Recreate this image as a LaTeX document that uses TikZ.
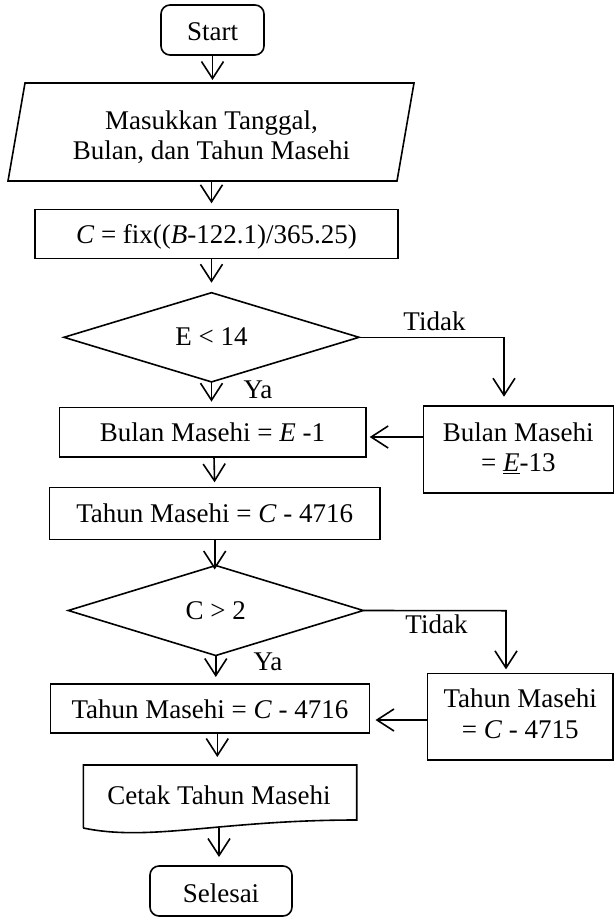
\documentclass[tikz,border=0pt]{standalone}
\usepackage{fontspec}
\setmainfont{Liberation Serif}
\usetikzlibrary{arrows.meta,shapes.geometric}
\begin{document}
\begin{tikzpicture}[x=1pt,y=-1pt,
  font=\fontsize{27}{30.5}\selectfont,
  every node/.style={inner sep=0pt, outer sep=0pt},
  box/.style={draw, line width=1.6pt, text height=19pt, text depth=0pt},
  mbox/.style={draw, line width=1.6pt, align=center, text depth=0pt},
  term/.style={draw, line width=1.6pt, rounded corners=9pt, text height=22pt, text depth=0pt},
  dec/.style={draw, diamond, line width=1.6pt, text height=17pt, text depth=0pt},
  flow/.style={line width=1.6pt, -{Straight Barb[length=17pt,width=22pt]}},
  lbl/.style={anchor=base}]
\useasboundingbox (0,0) rectangle (615,920);

% nodes
\node[term, minimum width=103pt, minimum height=50pt] (start) at (212.5,30) {Start};

\node[align=center, minimum width=389pt, minimum height=98pt, text height=56pt, text depth=0pt] (inp) at (211.5,132) {Masukkan Tanggal,\\Bulan, dan Tahun Masehi};
\draw[line width=1.6pt, line join=miter] (25,83) -- (414,83) -- (397,181) -- (8,181) -- cycle;

\node[box, minimum width=363pt, minimum height=49pt] (cbox) at (216.5,233.8) {\textit{C} = fix((\textit{B}-122.1)/365.25)};

\node[dec, minimum width=295pt, minimum height=87pt] (d1) at (211.5,337.3) {E < 14};

\node[box, minimum width=306.4pt, minimum height=49.3pt] (b1) at (212.5,432.3) {Bulan Masehi = \textit{E} -1};

\node[mbox, minimum width=190pt, minimum height=87pt, text height=45pt] (s1) at (518.3,449.2) {Bulan Masehi\\= \underline{\textit{E}}-13};

\node[box, minimum width=330.7pt, minimum height=52pt] (t1b) at (214.7,513.3) {Tahun Masehi = \textit{C} - 4716};

\node[dec, minimum width=295pt, minimum height=90pt] (d2) at (215.8,610.5) {C > 2};

\node[box, minimum width=319pt, minimum height=49pt] (t2b) at (210,708.5) {Tahun Masehi = \textit{C} - 4716};

\node[mbox, minimum width=185.7pt, minimum height=86.7pt, text height=43.2pt] (s2) at (520.2,716.7) {Tahun Masehi\\= \textit{C} - 4715};

\node[minimum width=273.4pt, minimum height=63pt, text height=15pt, text depth=0pt] (doc) at (219,796.5) {Cetak Tahun Masehi};
\draw[line width=1.6pt, line join=miter] (83.3,828) -- (83.3,765) -- (356.7,765) -- (356.7,820) .. controls (220,820) and (150,842) .. (83.3,828);

\node[term, minimum width=142pt, minimum height=50pt] (sel) at (221,891) {Selesai};

% labels
\node[lbl] (tidak1) at (434.5,330) {Tidak};
\node[lbl] (ya1) at (258,398) {Ya};
\node[lbl] (tidak2) at (436.5,633.3) {Tidak};
\node[lbl] (ya2) at (268,670) {Ya};

% helper coordinates
\coordinate (k1) at (504,337.3);
\coordinate (k2) at (506,610.7);
\coordinate (h1) at (0,437);
\coordinate (h2) at (0,720);

% connectors
\draw[flow, shorten >=3pt] (start.south) -- (start.south |- inp.north);
\draw[flow, shorten >=6pt] (inp.south) -- (inp.south |- cbox.north);
\draw[flow, shorten >=10pt] (cbox.south -| d1.north) -- (d1.north);
\draw[flow, shorten >=6pt] (d1.south) -- (d1.south |- b1.north);
\draw[flow, shorten >=5pt] (b1.south -| 214,0) -- (t1b.north);
\draw[flow, shorten >=-4pt] (t1b.south) -- (t1b.south |- d2.north);
\draw[flow, shorten >=7pt] (d2.south) -- (d2.south |- t2b.north);
\draw[flow, shorten >=8pt] (t2b.south -| 217.3,0) -- (doc.north -| 217.3,0);
\draw[flow, shorten >=9pt] (doc.south) -- (doc.south |- sel.north);

\draw[flow, shorten >=9pt] (d1.east) -- (k1) -- (k1 |- s1.north);
\draw[flow, shorten >=4pt] (s1.west |- h1) -- (b1.east |- h1);
\draw[flow, shorten >=4pt] (d2.east) -- (k2) -- (k2 |- s2.north);
\draw[flow, shorten >=6pt] (s2.west |- h2) -- (t2b.east |- h2);
\end{tikzpicture}
\end{document}
